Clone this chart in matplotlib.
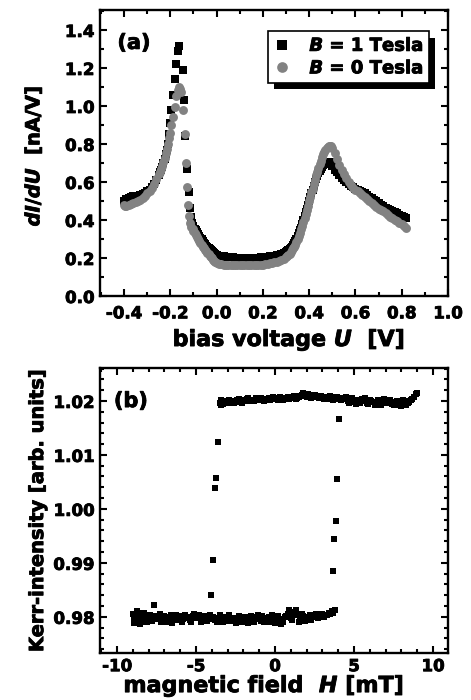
import matplotlib
matplotlib.use("Agg")
import matplotlib.pyplot as plt
import matplotlib.patheffects as pe
from matplotlib.ticker import MultipleLocator

plt.rcParams["font.family"] = ["DejaVu Sans"]
plt.rcParams["font.weight"] = "bold"
plt.rcParams["axes.unicode_minus"] = False
plt.rcParams["mathtext.fontset"] = "custom"
plt.rcParams["mathtext.it"] = "DejaVu Sans:italic:bold"
plt.rcParams["mathtext.rm"] = "DejaVu Sans:bold"

# ---- panel (a): dI/dU spectra, B = 1 T (black) and B = 0 T (gray) ----
u_b1 = [-0.40, -0.39, -0.38, -0.37, -0.36, -0.35, -0.34, -0.33, -0.32, -0.31,
        -0.30, -0.29, -0.28, -0.27, -0.26, -0.25, -0.245, -0.24, -0.235, -0.23,
        -0.225, -0.22, -0.215, -0.21, -0.205, -0.202, -0.195, -0.188, -0.181, -0.176,
        -0.166, -0.164, -0.145, -0.141, -0.135, -0.128, -0.121, -0.116, -0.111, -0.106,
        -0.10, -0.095, -0.09, -0.085, -0.08, -0.075, -0.07, -0.065, -0.06, -0.055,
        -0.05, -0.045, -0.04, -0.035, -0.03, -0.025, -0.02, -0.015, -0.01, -0.005,
        0.00, 0.01, 0.02, 0.03, 0.04, 0.05, 0.06, 0.07, 0.08, 0.09,
        0.10, 0.11, 0.12, 0.13, 0.14, 0.15, 0.16, 0.17, 0.18, 0.19,
        0.20, 0.21, 0.22, 0.23, 0.24, 0.25, 0.26, 0.27, 0.28, 0.29,
        0.30, 0.305, 0.31, 0.315, 0.32, 0.325, 0.33, 0.335, 0.34, 0.345,
        0.35, 0.355, 0.36, 0.365, 0.37, 0.375, 0.38, 0.385, 0.39, 0.395,
        0.40, 0.405, 0.41, 0.415, 0.42, 0.425, 0.43, 0.435, 0.44, 0.445,
        0.45, 0.455, 0.46, 0.465, 0.47, 0.475, 0.48, 0.485, 0.49, 0.495,
        0.50, 0.51, 0.52, 0.53, 0.54, 0.55, 0.56, 0.57, 0.58, 0.59,
        0.60, 0.61, 0.62, 0.63, 0.64, 0.65, 0.66, 0.67, 0.68, 0.69,
        0.70, 0.71, 0.72, 0.73, 0.74, 0.75, 0.76, 0.77, 0.78, 0.79,
        0.80, 0.81, 0.82]
didu_b1 = [0.50, 0.51, 0.515, 0.52, 0.525, 0.525, 0.525, 0.53, 0.535, 0.54,
           0.55, 0.56, 0.575, 0.59, 0.61, 0.635, 0.65, 0.665, 0.68, 0.70,
           0.72, 0.745, 0.77, 0.80, 0.85, 0.91, 0.98, 1.06, 1.14, 1.22,
           1.29, 1.315, 1.19, 1.03, 0.84, 0.67, 0.545, 0.465, 0.415, 0.385,
           0.37, 0.355, 0.345, 0.335, 0.325, 0.315, 0.305, 0.30, 0.29, 0.28,
           0.275, 0.265, 0.26, 0.25, 0.245, 0.24, 0.235, 0.23, 0.225, 0.22,
           0.215, 0.21, 0.21, 0.21, 0.205, 0.205, 0.205, 0.205, 0.20, 0.20,
           0.20, 0.20, 0.20, 0.20, 0.20, 0.20, 0.20, 0.20, 0.20, 0.205,
           0.205, 0.205, 0.205, 0.21, 0.21, 0.21, 0.215, 0.215, 0.22, 0.225,
           0.23, 0.235, 0.24, 0.245, 0.25, 0.26, 0.27, 0.28, 0.29, 0.30,
           0.315, 0.33, 0.345, 0.36, 0.38, 0.40, 0.42, 0.44, 0.46, 0.48,
           0.50, 0.52, 0.54, 0.56, 0.58, 0.60, 0.615, 0.63, 0.645, 0.66,
           0.67, 0.68, 0.69, 0.695, 0.70, 0.70, 0.695, 0.70, 0.705, 0.695,
           0.685, 0.665, 0.65, 0.635, 0.62, 0.61, 0.60, 0.59, 0.58, 0.575,
           0.565, 0.56, 0.555, 0.545, 0.54, 0.53, 0.52, 0.515, 0.505, 0.50,
           0.49, 0.48, 0.475, 0.465, 0.46, 0.45, 0.445, 0.44, 0.435, 0.425,
           0.42, 0.415, 0.41]

u_b0 = [-0.40, -0.395, -0.39, -0.38, -0.37, -0.36, -0.35, -0.34, -0.33, -0.32,
        -0.31, -0.30, -0.29, -0.28, -0.27, -0.26, -0.25, -0.245, -0.24, -0.235,
        -0.23, -0.225, -0.22, -0.215, -0.21, -0.205, -0.20, -0.195, -0.188, -0.181,
        -0.176, -0.169, -0.163, -0.157, -0.152, -0.145, -0.138, -0.133, -0.128, -0.123,
        -0.119, -0.114, -0.109, -0.104, -0.10, -0.095, -0.09, -0.085, -0.08, -0.075,
        -0.07, -0.065, -0.06, -0.055, -0.05, -0.045, -0.04, -0.035, -0.03, -0.025,
        -0.02, -0.015, -0.01, -0.005, 0.00, 0.01, 0.02, 0.03, 0.04, 0.05,
        0.06, 0.07, 0.08, 0.09, 0.10, 0.11, 0.12, 0.13, 0.14, 0.15,
        0.16, 0.17, 0.18, 0.19, 0.20, 0.21, 0.22, 0.23, 0.24, 0.25,
        0.26, 0.27, 0.28, 0.29, 0.30, 0.305, 0.31, 0.315, 0.32, 0.325,
        0.33, 0.335, 0.34, 0.345, 0.35, 0.355, 0.36, 0.365, 0.37, 0.375,
        0.38, 0.385, 0.39, 0.395, 0.40, 0.405, 0.41, 0.415, 0.42, 0.425,
        0.43, 0.435, 0.44, 0.445, 0.45, 0.455, 0.46, 0.465, 0.47, 0.475,
        0.48, 0.485, 0.49, 0.495, 0.50, 0.51, 0.52, 0.53, 0.54, 0.55,
        0.56, 0.57, 0.58, 0.59, 0.60, 0.61, 0.62, 0.63, 0.64, 0.65,
        0.66, 0.67, 0.68, 0.69, 0.70, 0.71, 0.72, 0.73, 0.74, 0.75,
        0.76, 0.77, 0.78, 0.79, 0.80, 0.81, 0.82]
didu_b0 = [0.48, 0.475, 0.475, 0.48, 0.485, 0.49, 0.495, 0.50, 0.505, 0.515,
           0.525, 0.54, 0.555, 0.57, 0.59, 0.615, 0.64, 0.655, 0.67, 0.685,
           0.705, 0.725, 0.75, 0.775, 0.80, 0.83, 0.86, 0.90, 0.944, 0.996,
           1.05, 1.085, 1.10, 1.09, 1.075, 0.98, 0.85, 0.70, 0.575, 0.48,
           0.42, 0.385, 0.365, 0.35, 0.34, 0.33, 0.32, 0.31, 0.30, 0.29,
           0.28, 0.27, 0.26, 0.25, 0.24, 0.235, 0.225, 0.22, 0.21, 0.205,
           0.20, 0.19, 0.185, 0.18, 0.175, 0.17, 0.17, 0.165, 0.165, 0.165,
           0.165, 0.165, 0.165, 0.165, 0.165, 0.165, 0.165, 0.165, 0.165, 0.165,
           0.165, 0.165, 0.165, 0.165, 0.165, 0.17, 0.17, 0.175, 0.175, 0.18,
           0.18, 0.185, 0.19, 0.195, 0.205, 0.21, 0.215, 0.22, 0.23, 0.24,
           0.25, 0.26, 0.27, 0.285, 0.30, 0.315, 0.33, 0.35, 0.37, 0.39,
           0.41, 0.43, 0.45, 0.475, 0.50, 0.52, 0.545, 0.565, 0.59, 0.61,
           0.635, 0.655, 0.675, 0.695, 0.71, 0.73, 0.745, 0.76, 0.77, 0.78,
           0.785, 0.79, 0.79, 0.79, 0.78, 0.75, 0.72, 0.69, 0.665, 0.64,
           0.62, 0.60, 0.585, 0.57, 0.56, 0.55, 0.54, 0.53, 0.52, 0.51,
           0.50, 0.49, 0.48, 0.47, 0.46, 0.455, 0.445, 0.435, 0.425, 0.415,
           0.41, 0.40, 0.395, 0.385, 0.38, 0.37, 0.36]

xticks_a = [-0.4, -0.2, 0.0, 0.2, 0.4, 0.6, 0.8, 1.0]
xlabels_a = ["-0.4", "-0.2", "0.0", "0.2", "0.4", "0.6", "0.8", "1.0"]
yticks_a = [0.0, 0.2, 0.4, 0.6, 0.8, 1.0, 1.2, 1.4]
ylabels_a = ["0.0", "0.2", "0.4", "0.6", "0.8", "1.0", "1.2", "1.4"]

# ---- panel (b): Kerr hysteresis loop (two sweeps per branch) ----
h_lower = [-9.0, -8.9, -8.8, -8.7, -8.6, -8.5, -8.4, -8.2, -8.0, -7.8,
           -7.64, -7.6, -7.4, -7.2, -7.0, -6.8, -6.6, -6.4, -6.2, -6.0,
           -5.8, -5.6, -5.4, -5.2, -5.0, -4.8, -4.6, -4.4, -4.2, -4.0,
           -3.8, -3.6, -3.4, -3.2, -3.0, -2.8, -2.6, -2.4, -2.2, -2.0,
           -1.8, -1.6, -1.4, -1.2, -1.0, -0.8, -0.6, -0.4, -0.2, 0.0,
           0.1, 0.2, 0.4, 0.6, 0.8, 0.9, 1.0, 1.2, 1.3, 1.4,
           1.6, 1.8, 2.0, 2.2, 2.4, 2.6, 2.8, 3.0, 3.2, 3.4,
           3.6, 3.8]
kerr_lower = [0.9806, 0.9788, 0.9801, 0.9795, 0.9808, 0.9790, 0.9802, 0.9797, 0.9800, 0.9793,
              0.9822, 0.9802, 0.9796, 0.9790, 0.9801, 0.9797, 0.9803, 0.9795, 0.9799, 0.9802,
              0.9796, 0.9800, 0.9794, 0.9801, 0.9797, 0.9803, 0.9795, 0.9799, 0.9796, 0.9800,
              0.9794, 0.9798, 0.9795, 0.9799, 0.9793, 0.9797, 0.9792, 0.9798, 0.9794, 0.9796,
              0.9791, 0.9797, 0.9793, 0.9799, 0.9796, 0.9801, 0.9797, 0.9800, 0.9803, 0.9788,
              0.9798, 0.9802, 0.9786, 0.9800, 0.9806, 0.9812, 0.9797, 0.9809, 0.9813, 0.9803,
              0.9795, 0.9801, 0.9797, 0.9803, 0.9799, 0.9805, 0.9801, 0.9806, 0.9803, 0.9808,
              0.9810, 0.9812]
h_lower2 = [-8.95, -8.75, -8.55, -8.3, -8.1, -7.9, -7.5, -7.3, -7.1, -6.9,
            -6.7, -6.5, -6.3, -6.1, -5.9, -5.7, -5.5, -5.3, -5.1, -4.9,
            -4.7, -4.5, -4.3, -4.1, -3.9, -3.7, -3.5, -3.3, -3.1, -2.9,
            -2.7, -2.5, -2.3, -2.1, -1.9, -1.7, -1.5, -1.3, -1.1, -0.9,
            -0.7, -0.5, -0.3, -0.1, 0.3, 0.5, 0.7, 1.1, 1.5, 1.7,
            1.9, 2.1, 2.3, 2.5, 2.7, 2.9, 3.1, 3.3, 3.5, 3.7]
kerr_lower2 = [0.9797, 0.9810, 0.9786, 0.9808, 0.9791, 0.9803, 0.9799, 0.9806, 0.9794, 0.9791,
               0.9799, 0.9789, 0.9803, 0.9795, 0.9790, 0.9804, 0.9798, 0.9791, 0.9805, 0.9799,
               0.9790, 0.9802, 0.9792, 0.9803, 0.9800, 0.9791, 0.9803, 0.9790, 0.9800, 0.9803,
               0.9797, 0.9789, 0.9801, 0.9791, 0.9799, 0.9789, 0.9801, 0.9790, 0.9803, 0.9792,
               0.9791, 0.9795, 0.9790, 0.9797, 0.9796, 0.9791, 0.9802, 0.9795, 0.9790, 0.9806,
               0.9792, 0.9800, 0.9795, 0.9799, 0.9797, 0.9802, 0.9799, 0.9803, 0.9805, 0.9807]
h_upper = [-3.5, -3.4, -3.3, -3.2, -3.0, -2.8, -2.6, -2.4, -2.2, -2.0,
           -1.8, -1.6, -1.4, -1.2, -1.0, -0.8, -0.6, -0.4, -0.2, 0.0,
           0.2, 0.4, 0.6, 0.8, 1.0, 1.2, 1.4, 1.6, 1.8, 2.0,
           2.2, 2.4, 2.6, 2.8, 3.0, 3.2, 3.4, 3.6, 3.8, 4.0,
           4.2, 4.4, 4.5, 4.6, 4.8, 5.0, 5.1, 5.2, 5.4, 5.6,
           5.7, 5.8, 6.0, 6.2, 6.3, 6.4, 6.6, 6.8, 6.9, 7.0,
           7.2, 7.4, 7.5, 7.6, 7.8, 8.0, 8.1, 8.2, 8.3, 8.4,
           8.6, 8.8, 8.9, 9.0]
kerr_upper = [1.0197, 1.0201, 1.0194, 1.0199, 1.0196, 1.0200, 1.0197, 1.0202, 1.0198, 1.0201,
              1.0204, 1.0199, 1.0202, 1.0205, 1.0201, 1.0204, 1.0202, 1.0206, 1.0203, 1.0205,
              1.0202, 1.0206, 1.0204, 1.0207, 1.0205, 1.0209, 1.0206, 1.0210, 1.0214, 1.0208,
              1.0211, 1.0207, 1.0209, 1.0205, 1.0208, 1.0206, 1.0204, 1.0207, 1.0203, 1.0206,
              1.0201, 1.0204, 1.0208, 1.0199, 1.0203, 1.0198, 1.0194, 1.0201, 1.0196, 1.0200,
              1.0205, 1.0197, 1.0202, 1.0198, 1.0193, 1.0195, 1.0199, 1.0196, 1.0203, 1.0200,
              1.0197, 1.0194, 1.0192, 1.0198, 1.0195, 1.0190, 1.0201, 1.0199, 1.0192, 1.0196,
              1.0201, 1.0208, 1.0212, 1.0214]
h_upper2 = [-3.45, -3.1, -2.9, -2.7, -2.5, -2.3, -2.1, -1.9, -1.7, -1.5,
            -1.3, -1.1, -0.9, -0.7, -0.5, -0.3, -0.1, 0.1, 0.3, 0.5,
            0.7, 0.9, 1.1, 1.3, 1.5, 1.7, 1.9, 2.1, 2.3, 2.5,
            2.7, 2.9, 3.1, 3.3, 3.5, 3.7, 3.9, 4.1, 4.3, 4.7,
            4.9, 5.3, 5.5, 5.9, 6.1, 6.5, 6.7, 7.1, 7.3, 7.7,
            7.9, 8.5, 8.7]
kerr_upper2 = [1.0193, 1.0199, 1.0202, 1.0196, 1.0199, 1.0203, 1.0197, 1.0200, 1.0206, 1.0201,
               1.0199, 1.0203, 1.0206, 1.0200, 1.0203, 1.0201, 1.0207, 1.0203, 1.0208, 1.0201,
               1.0205, 1.0203, 1.0207, 1.0204, 1.0207, 1.0211, 1.0209, 1.0212, 1.0205, 1.0211,
               1.0207, 1.0210, 1.0203, 1.0207, 1.0209, 1.0202, 1.0208, 1.0203, 1.0206, 1.0197,
               1.0206, 1.0198, 1.0203, 1.0194, 1.0199, 1.0201, 1.0193, 1.0197, 1.0201, 1.0199,
               1.0193, 1.0198, 1.0204]
h_switch = [-4.03, -3.90, -3.82, -3.73, -3.63, 3.65, 3.75, 3.86, 3.94, 4.07]
kerr_switch = [0.9840, 0.9905, 1.0038, 1.0057, 1.0123, 0.9885, 0.9945, 0.9978, 1.0055, 1.0167]

xticks_b = [-10, -5, 0, 5, 10]
xlabels_b = ["-10", "-5", "0", "5", "10"]
yticks_b = [0.98, 0.99, 1.00, 1.01, 1.02]
ylabels_b = ["0.98", "0.99", "1.00", "1.01", "1.02"]

GRAY = "#828282"
HEAVY = [pe.withStroke(linewidth=0.6, foreground="k")]


def style_axes(ax, xt, xl, yt, yl, xminor, yminor):
    ax.set_xticks(xt, xl, fontsize=12, fontweight="bold", path_effects=HEAVY)
    ax.set_yticks(yt, yl, fontsize=12, fontweight="bold", path_effects=HEAVY)
    ax.xaxis.set_minor_locator(MultipleLocator(xminor))
    ax.yaxis.set_minor_locator(MultipleLocator(yminor))
    ax.tick_params(which="both", direction="in", top=True, right=True, width=1.5)
    ax.tick_params(which="major", length=5)
    ax.tick_params(which="minor", length=3)
    for sp in ax.spines.values():
        sp.set_linewidth(1.7)


fig = plt.figure(figsize=(4.71, 7.0), dpi=100)

# ---------------- (a) ----------------
ax1 = fig.add_axes([100 / 471, 404 / 700, 348 / 471, 286 / 700])
ax1.plot(u_b1, didu_b1, ls="none", marker="s", ms=5.6, color="k",
         mew=0, label="$B$ = 1 Tesla")
ax1.plot(u_b0, didu_b0, ls="none", marker="o", ms=6.4, color=GRAY,
         mew=0, label="$B$ = 0 Tesla")
ax1.set_xlim(-0.504, 1.0)
ax1.set_ylim(0.0, 1.505)
style_axes(ax1, xticks_a, xlabels_a, yticks_a, ylabels_a, 0.1, 0.1)
ax1.tick_params(axis="x", pad=6)
ax1.tick_params(axis="y", pad=4)
ax1.set_xlabel("bias voltage $U$  [V]", fontsize=16, fontweight="bold",
               path_effects=HEAVY)
ax1.xaxis.set_label_coords(0.543, -0.112)
ax1.set_ylabel("$dI/dU$  [nA/V]", fontsize=14, fontweight="bold",
               path_effects=HEAVY)
ax1.yaxis.set_label_coords(-0.16, 0.49)
ax1.text(0.05, 0.885, "(a)", transform=ax1.transAxes, fontsize=15,
         fontweight="bold", va="center", ha="left", path_effects=HEAVY)

leg = ax1.legend(loc="upper right", bbox_to_anchor=(0.945, 0.925),
                 borderaxespad=0, fontsize=13, fancybox=False, framealpha=1,
                 edgecolor="k", handlelength=1.0, handletextpad=1.0,
                 borderpad=0.3, labelspacing=0.25, markerscale=1.2)
for t in leg.get_texts():
    t.set_path_effects(HEAVY)
leg.get_frame().set_linewidth(1.2)
leg.get_frame().set_path_effects([
    pe.SimplePatchShadow(offset=(4.5, -4.5), shadow_rgbFace="k", alpha=1.0),
    pe.Normal()])

# ---------------- (b) ----------------
ax2 = fig.add_axes([100 / 471, 47 / 700, 348 / 471, 285 / 700])
for hh, kk in [(h_lower, kerr_lower), (h_lower2, kerr_lower2),
               (h_upper, kerr_upper), (h_upper2, kerr_upper2),
               (h_switch, kerr_switch)]:
    ax2.plot(hh, kk, ls="none", marker="s", ms=3.8, color="k", mew=0)
ax2.set_xlim(-11.08, 10.95)
ax2.set_ylim(0.9733, 1.0261)
style_axes(ax2, xticks_b, xlabels_b, yticks_b, ylabels_b, 1, 0.002)
ax2.tick_params(axis="x", pad=3)
ax2.tick_params(axis="y", pad=4)
ax2.set_xlabel("magnetic field  $H$ [mT]", fontsize=16, fontweight="bold",
               path_effects=HEAVY)
ax2.xaxis.set_label_coords(0.471, -0.074)
ax2.set_ylabel("Kerr-intensity [arb. units]", fontsize=14, fontweight="bold",
               path_effects=HEAVY)
ax2.yaxis.set_label_coords(-0.152, 0.5)
ax2.text(0.04, 0.884, "(b)", transform=ax2.transAxes, fontsize=15,
         fontweight="bold", va="center", ha="left", path_effects=HEAVY)

fig.savefig("out.png", dpi=100)
